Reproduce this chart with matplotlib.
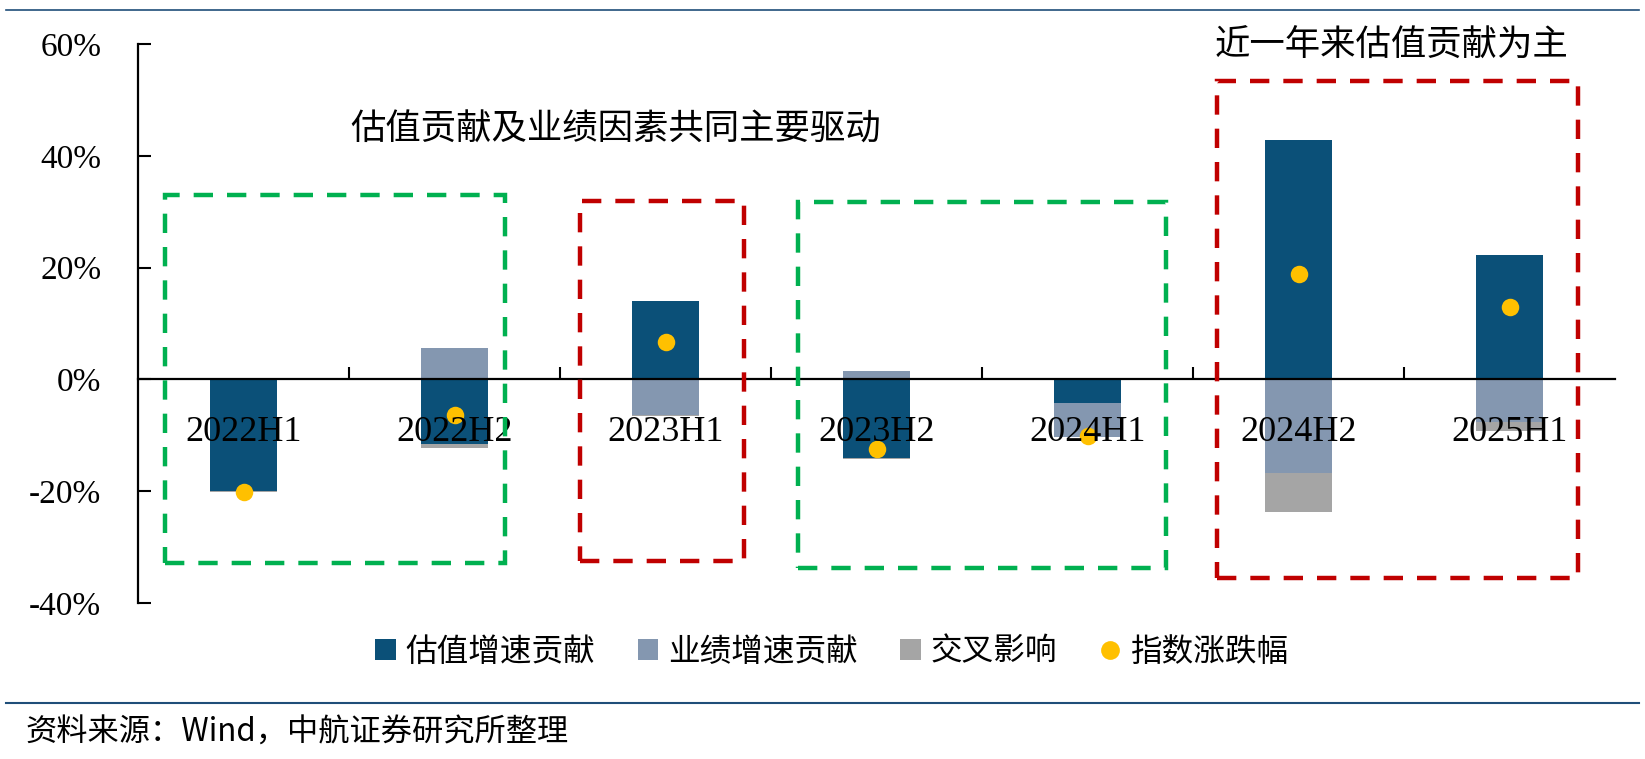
import matplotlib
matplotlib.use('Agg')
import matplotlib.pyplot as plt
import numpy as np
from matplotlib.patches import Rectangle, Patch
from matplotlib.lines import Line2D

# ---------------- data ----------------
categories = ['2022H1', '2022H2', '2023H1', '2023H2', '2024H1', '2024H2', '2025H1']
valuation = [-20.0, -11.5, 14.1, -14.0, -4.3, 42.8, 22.3]     # 估值增速贡献 (%)
earnings = [0.0, 5.7, -6.3, 1.55, -6.0, -16.7, -7.6]          # 业绩增速贡献 (%)
cross = [-0.1, -0.7, -0.3, -0.2, 0.3, -7.1, -1.7]             # 交叉影响 (%)
index_chg = [-20.1, -6.45, 6.75, -12.5, -10.1, 18.9, 13.0]    # 指数涨跌幅 (%)
series_names = ['估值增速贡献', '业绩增速贡献', '交叉影响', '指数涨跌幅']
yticks = [-40, -20, 0, 20, 40, 60]
note_left = '估值贡献及业绩因素共同主要驱动'
note_right = '近一年来估值贡献为主'
source_text = '资料来源：Wind，中航证券研究所整理'

# ---------------- style ----------------
C_VAL = '#0B5078'
C_EARN = '#8497B0'
C_CROSS = '#A5A5A5'
C_DOT = '#FFC000'
C_GREEN = '#00B050'
C_RED = '#C00000'
C_RULE = '#1F4E79'
CJK = ['Noto Sans CJK SC', 'DejaVu Sans']
SERIF = ['Liberation Serif', 'DejaVu Serif']

plt.rcParams['font.family'] = SERIF

fig = plt.figure(figsize=(16.45, 7.59), dpi=100)
ax = fig.add_axes([138 / 1645, 1 - 603 / 759, 1477 / 1645, (603 - 44) / 759])

# axis layout first (spine repositioning resets ticks)
for s in ['top', 'right']:
    ax.spines[s].set_visible(False)
ax.spines['bottom'].set_position(('data', 0))
ax.spines['bottom'].set_linewidth(1.6)
ax.spines['left'].set_linewidth(1.6)
ax.set_axisbelow(False)

x = np.arange(len(categories))
bar_w = 0.313
pos_base = np.zeros(len(categories))
neg_base = np.zeros(len(categories))
for vals, col in zip([valuation, earnings, cross], [C_VAL, C_EARN, C_CROSS]):
    arr = np.array(vals, dtype=float)
    bottoms = np.where(arr >= 0, pos_base, neg_base)
    ax.bar(x, arr, bottom=bottoms, width=bar_w, color=col, zorder=1.5, linewidth=0)
    pos_base += np.where(arr > 0, arr, 0)
    neg_base += np.where(arr < 0, arr, 0)

ax.scatter(x, index_chg, s=12.6 ** 2, color=C_DOT, zorder=2, linewidths=0)

ax.set_xlim(-0.5, len(categories) - 0.5)
ax.set_ylim(yticks[0], yticks[-1])
ax.set_yticks(yticks)
ax.set_yticklabels([f'{v}%' for v in yticks])
ax.tick_params(axis='y', direction='in', length=9, width=1.5, pad=26.5, labelsize=24)

ax.set_xticks(x)
ax.set_xticklabels(categories)
ax.tick_params(axis='x', which='major', length=0, pad=26, labelsize=26)
ax.set_xticks(np.arange(0.5, len(categories) - 0.5, 1), minor=True)
ax.tick_params(axis='x', which='minor', direction='in', length=9, width=1.5)

# dashed highlight boxes (data coordinates)
boxes = [(-0.372, -32.8, 1.24, 33.0, C_GREEN),
         (1.595, -32.4, 2.372, 32.0, C_RED),
         (2.626, -33.7, 4.37, 31.8, C_GREEN),
         (4.616, -35.6, 6.327, 53.4, C_RED)]
for x0, y0, x1, y1, col in boxes:
    ax.add_patch(Rectangle((x0, y0), x1 - x0, y1 - y0, fill=False, edgecolor=col,
                           linewidth=3.2, linestyle=(0, (4.35, 3.15)), zorder=5, clip_on=False))

ax.text(1.763, 44.7, note_left, family=CJK, fontsize=25.5, ha='center', va='center', color='black')
ax.text(5.44, 59.7, note_right, family=CJK, fontsize=25.5, ha='center', va='center', color='black')

# legend
handles = [Patch(facecolor=C_VAL, edgecolor='none'),
           Patch(facecolor=C_EARN, edgecolor='none'),
           Patch(facecolor=C_CROSS, edgecolor='none'),
           Line2D([], [], linestyle='none', marker='o', markersize=13.5,
                  markerfacecolor=C_DOT, markeredgecolor='none')]
fig.legend(handles, series_names, loc='center', bbox_to_anchor=(0.5055, 1 - 651.5 / 759),
           ncol=4, frameon=False, prop={'family': CJK, 'size': 22.75},
           handlelength=0.66, handleheight=0.66, handletextpad=0.3, columnspacing=1.35)

# rules and source
fig.add_artist(Line2D([6 / 1645, 1639 / 1645], [1 - 10 / 759, 1 - 10 / 759],
                      color=C_RULE, linewidth=1.2, transform=fig.transFigure))
fig.add_artist(Line2D([6 / 1645, 1639 / 1645], [1 - 703 / 759, 1 - 703 / 759],
                      color=C_RULE, linewidth=1.5, transform=fig.transFigure))
fig.text(25 / 1645, 1 - 733 / 759, source_text, family=CJK, fontsize=22.5,
         ha='left', va='center', color='black')

fig.savefig('out.png', dpi=100)
